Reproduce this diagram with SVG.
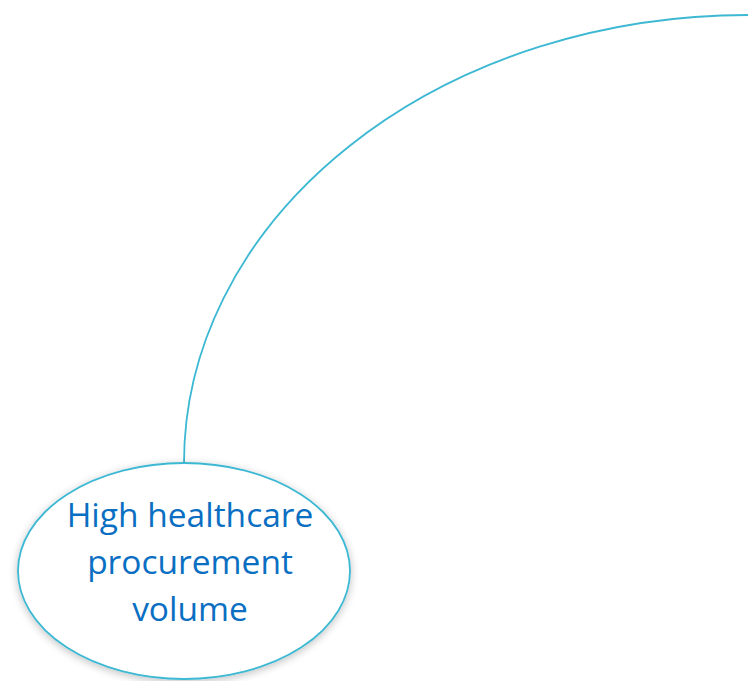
<svg xmlns="http://www.w3.org/2000/svg" width="748" height="681" viewBox="0 0 748 681">
<style>
.conn{fill:none;stroke:#3db8d3;stroke-width:1.8}
.node{fill:#ffffff;stroke:#3db8d3;stroke-width:1.8}
.lbl{font-family:"Open Sans","Noto Sans",sans-serif;font-size:33.5px;fill:#0a6fc2;text-anchor:middle}
</style>
<defs>
<filter id="sh" x="-20%" y="-20%" width="140%" height="140%">
<feGaussianBlur in="SourceAlpha" stdDeviation="4"/>
<feOffset dx="0" dy="2"/>
<feComponentTransfer><feFuncA type="linear" slope="0.25"/></feComponentTransfer>
<feMerge><feMergeNode/><feMergeNode in="SourceGraphic"/></feMerge>
</filter>
</defs>
<rect width="748" height="681" fill="#ffffff"/>
<g id="connectors">
<path class="conn" d="M184 463 A564 448 0 0 1 748 15"/>
</g>
<g id="node-procurement">
<ellipse class="node" cx="184" cy="571" rx="166" ry="108" filter="url(#sh)"/>
<text class="lbl" x="190" y="527">High healthcare</text>
<text class="lbl" x="190" y="574">procurement</text>
<text class="lbl" x="190" y="621">volume</text>
</g>
</svg>
